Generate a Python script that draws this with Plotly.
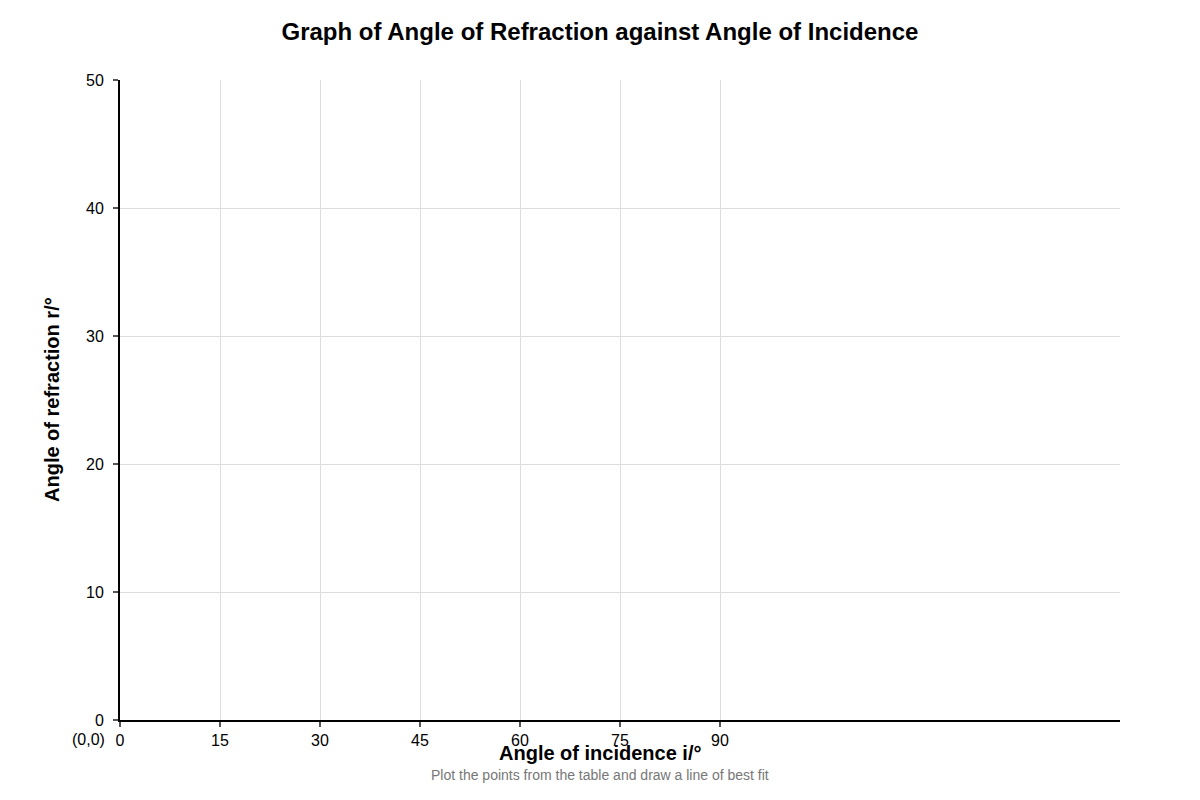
import plotly.graph_objects as go

# Data (the chart is a blank graph grid to be filled in)
x_ticks = [0, 15, 30, 45, 60, 75, 90]
y_ticks = [0, 10, 20, 30, 40, 50]
x_range = [0, 150]
y_range = [0, 50]
incidence = []   # no points plotted
refraction = []

title_text = "Graph of Angle of Refraction against Angle of Incidence"
x_title = "Angle of incidence i/°"
y_title = "Angle of refraction r/°"
subtitle = "Plot the points from the table and draw a line of best fit"
origin_label = "(0,0)"

FONT = "Liberation Sans, Arial, sans-serif"

fig = go.Figure()
fig.add_trace(go.Scatter(x=incidence, y=refraction, mode="markers",
                         marker=dict(color="black", size=8), showlegend=False))

fig.update_layout(
    width=1200, height=800,
    paper_bgcolor="white", plot_bgcolor="white",
    margin=dict(l=112, r=88, t=72, b=88),
    font=dict(family=FONT, color="black"),
    title=dict(text="<b>" + title_text + "</b>", x=(600 - 8) / 1200, xanchor="center",
               y=1 - 24 / 800, yanchor="middle", font=dict(size=24, family=FONT)),
    showlegend=False,
)

fig.update_xaxes(
    range=x_range, tickvals=x_ticks, ticktext=[str(v) for v in x_ticks],
    showline=True, linecolor="black", linewidth=2,
    ticks="outside", ticklen=5, tickcolor="#555", tickwidth=2,
    showgrid=True, gridcolor="#dddddd", gridwidth=1,
    zeroline=False, tickfont=dict(size=16, family=FONT, color="black"),
    ticklabelstandoff=0, fixedrange=True,
)
fig.update_yaxes(
    range=y_range, tickvals=y_ticks, ticktext=[str(v) for v in y_ticks],
    showline=True, linecolor="black", linewidth=2,
    ticks="outside", ticklen=5, tickcolor="#555", tickwidth=2,
    showgrid=True, gridcolor="#dddddd", gridwidth=1,
    zeroline=False, tickfont=dict(size=16, family=FONT, color="black"),
    ticklabelstandoff=6, fixedrange=True,
)

fig.add_annotation(text="<b>" + x_title + "</b>", xref="paper", yref="paper",
                   x=0.48, y=0, yshift=-33, xanchor="center", yanchor="middle",
                   showarrow=False, font=dict(size=20, family=FONT, color="black"))
fig.add_annotation(text=subtitle, xref="paper", yref="paper",
                   x=0.48, y=0, yshift=-55, xanchor="center", yanchor="middle",
                   showarrow=False, font=dict(size=14, family=FONT, color="#777777"))
fig.add_annotation(text="<b>" + y_title + "</b>", xref="paper", yref="paper",
                   x=0, xshift=-68, y=0.5, xanchor="center", yanchor="middle",
                   textangle=-90, showarrow=False,
                   font=dict(size=20, family=FONT, color="black"))
fig.add_annotation(text=origin_label, xref="paper", yref="paper",
                   x=0, xshift=-32, y=0, yshift=-19, xanchor="center", yanchor="middle",
                   showarrow=False, font=dict(size=16, family=FONT, color="black"))

fig.write_html("out.html")
